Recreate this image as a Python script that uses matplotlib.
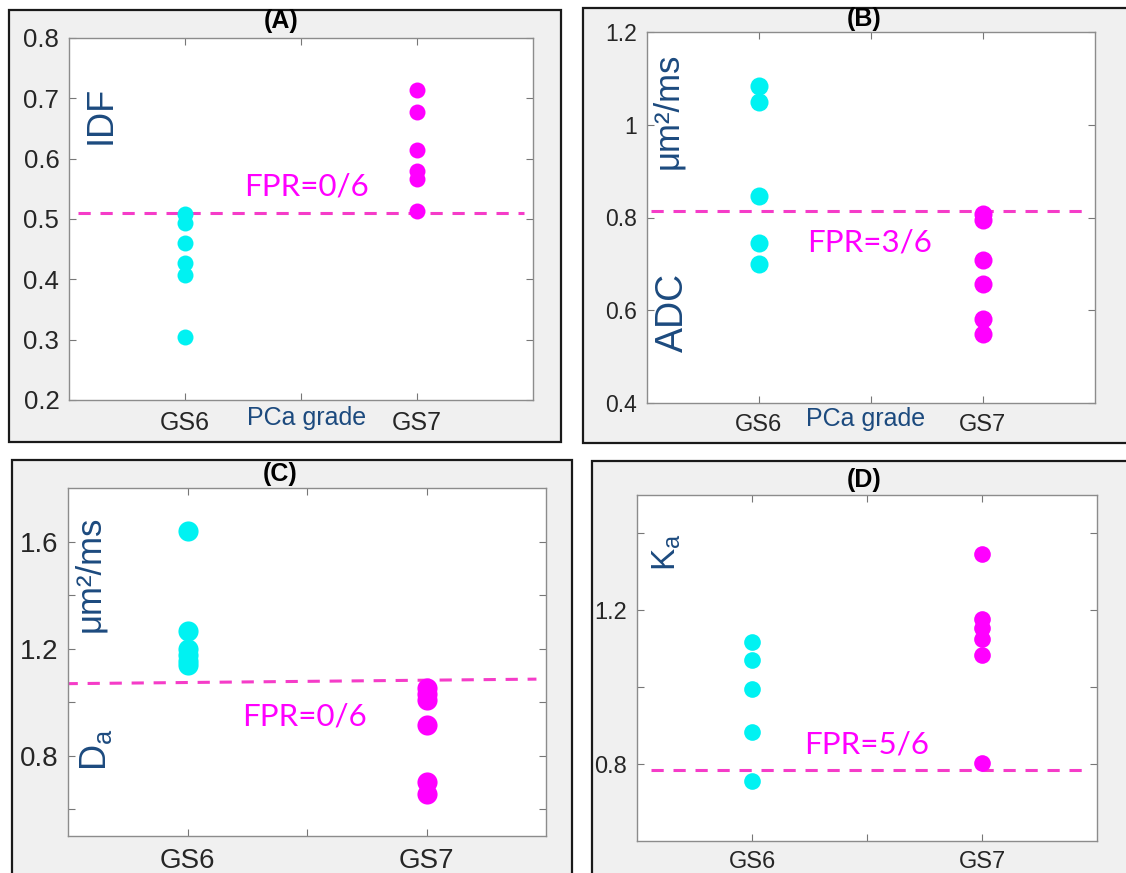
import matplotlib.pyplot as plt
from matplotlib.patches import Rectangle

plt.rcParams['font.family'] = ['Liberation Sans', 'DejaVu Sans']
plt.rcParams['mathtext.fontset'] = 'custom'
plt.rcParams['mathtext.rm'] = 'Liberation Sans'
plt.rcParams['mathtext.it'] = 'Liberation Sans'

groups = ['GS6', 'GS7']

# (A) IDF
idf_gs6 = [0.508, 0.493, 0.461, 0.427, 0.407, 0.304]
idf_gs7 = [0.713, 0.677, 0.614, 0.579, 0.567, 0.514]
idf_thr = 0.510

# (B) ADC
adc_gs6 = [1.083, 1.048, 0.846, 0.745, 0.700]
adc_gs7 = [0.808, 0.794, 0.708, 0.657, 0.582, 0.549]
adc_thr = 0.813

# (C) Da
da_gs6 = [1.641, 1.265, 1.198, 1.175, 1.155, 1.137]
da_gs7 = [1.052, 1.030, 1.007, 0.914, 0.702, 0.657]
da_thr = [1.069, 1.086]

# (D) Ka
ka_gs6 = [1.117, 1.072, 0.996, 0.883, 0.757]
ka_gs7 = [1.346, 1.178, 1.155, 1.125, 1.083, 0.803]
ka_thr = 0.784

W, H = 1126, 873
fig = plt.figure(figsize=(W / 100, H / 100), dpi=100)
fig.patch.set_facecolor('white')

blue = '#1c4a7e'
cyan = '#00f2f2'
mag = '#ff00ff'
line_col = '#f53cc8'


def px_rect(x0, y0, x1, y1):
    return [x0 / W, 1 - y1 / H, (x1 - x0) / W, (y1 - y0) / H]


# grey panel frames
for x0, y0, x1, y1 in [(9, 10, 561, 442), (583, 8, 1140, 443),
                       (12, 460, 572, 890), (592, 461, 1140, 890)]:
    fig.add_artist(Rectangle((x0 / W, 1 - y1 / H), (x1 - x0) / W, (y1 - y0) / H,
                             transform=fig.transFigure, facecolor='#f0f0f0',
                             edgecolor='#1a1a1a', lw=1.6, zorder=-5))


def make_ax(rect, ylim, yticks, ylabels, tick_fs, xtick_fs, xpad, ms, g6, g7):
    ax = fig.add_axes(px_rect(*rect))
    ax.set_facecolor('white')
    ax.plot([1] * len(g6), g6, 'o', color=cyan, ms=ms, mec='none', zorder=3)
    ax.plot([2] * len(g7), g7, 'o', color=mag, ms=ms, mec='none', zorder=3)
    ax.set_xlim(0.5, 2.5)
    ax.set_ylim(*ylim)
    ax.set_xticks([1, 1.5, 2])
    ax.set_xticklabels([groups[0], '', groups[1]])
    ax.set_yticks(yticks)
    ax.set_yticklabels(ylabels)
    ax.tick_params(direction='in', length=5, width=0.8, color='#777777',
                   top=True, right=True, labelcolor='#262626')
    ax.tick_params(axis='y', labelsize=tick_fs, pad=7)
    ax.tick_params(axis='x', labelsize=xtick_fs, pad=xpad)
    for s in ax.spines.values():
        s.set_color('#8c8c8c')
        s.set_linewidth(1.0)
    return ax


dash = dict(color=line_col, lw=2.2, dashes=(4, 3.2), zorder=2)
fpr = dict(color=mag, fontsize=22.5, family='Lato', ha='left', va='center')
lab = dict(color=blue, rotation=90, ha='center', va='center')
ttl = dict(fontsize=18, fontweight='bold', ha='center', va='center')

# (A)
ax = make_ax((69, 38, 533, 400), (0.2, 0.8), [0.2, 0.3, 0.4, 0.5, 0.6, 0.7, 0.8],
             ['0.2', '0.3', '0.4', '0.5', '0.6', '0.7', '0.8'], 18.5, 18, 8, 11.5,
             idf_gs6, idf_gs7)
ax.plot([0.54, 2.46], [idf_thr, idf_thr], **dash)
ax.text(1.255, 0.554, 'FPR=0/6', **fpr)
ax.text(0.069, 0.787, 'IDF', transform=ax.transAxes, fontsize=26, **lab)
ax.text(0.513, -0.05, 'PCa grade', transform=ax.transAxes, fontsize=18,
        color=blue, ha='center', va='center')
fig.text(281 / W, 1 - 21 / H, '(A)', **ttl)

# (B)
ax = make_ax((647, 32, 1095, 403), (0.4, 1.2), [0.4, 0.6, 0.8, 1.0, 1.2],
             ['0.4', '0.6', '0.8', '1', '1.2'], 16.5, 17, 8, 13,
             adc_gs6, adc_gs7)
ax.plot([0.52, 2.48], [adc_thr, adc_thr], **dash)
ax.text(1.215, 0.747, 'FPR=3/6', **fpr)
ax.text(0.058, 0.243, 'ADC', transform=ax.transAxes, fontsize=27, **lab)
ax.text(0.047, 0.787, 'μm²/ms', transform=ax.transAxes, fontsize=25, **lab)
ax.text(0.487, -0.043, 'PCa grade', transform=ax.transAxes, fontsize=18,
        color=blue, ha='center', va='center')
fig.text(864 / W, 1 - 19 / H, '(B)', **ttl)

# (C)
ax = make_ax((68, 488, 546, 836), (0.5, 1.8), [0.6, 0.8, 1.0, 1.2, 1.4, 1.6],
             ['', '0.8', '', '1.2', '', '1.6'], 20, 20, 9, 14.5,
             da_gs6, da_gs7)
ax.plot([0.49, 2.46], da_thr, **dash)
ax.text(1.228, 0.945, 'FPR=0/6', **fpr)
ax.text(0.046, 0.753, 'μm²/ms', transform=ax.transAxes, fontsize=25, **lab)
ax.text(0.059, 0.247, r'$\mathrm{D_a}$', transform=ax.transAxes, fontsize=26, **lab)
fig.text(280 / W, 1 - 474 / H, '(C)', **ttl)

# (D)
ax = make_ax((637, 495, 1097, 841), (0.6, 1.5), [0.8, 1.0, 1.2, 1.4],
             ['0.8', '', '1.2', ''], 17, 17, 7, 12,
             ka_gs6, ka_gs7)
ax.plot([0.56, 2.47], [ka_thr, ka_thr], **dash)
ax.text(1.228, 0.852, 'FPR=5/6', **fpr)
ax.text(0.065, 0.835, r'$\mathrm{K_a}$', transform=ax.transAxes, fontsize=24, **lab)
fig.text(864 / W, 1 - 480 / H, '(D)', **ttl)

fig.savefig('out.png', dpi=100)
